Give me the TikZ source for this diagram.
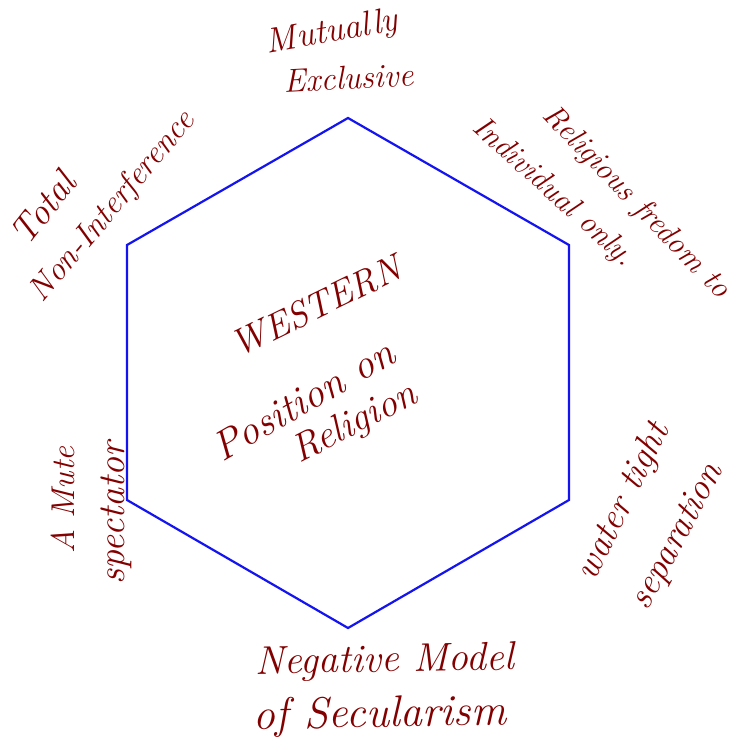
\documentclass[tikz,border=0pt]{standalone}
\usepackage{fontspec}
\newcommand{\fs}[1]{\fontsize{#1}{#1}\selectfont\itshape}
\begin{document}
\begin{tikzpicture}[x=1pt,y=-1pt,
  hexline/.style={draw={rgb,255:red,20;green,20;blue,240},line width=2.2pt,line join=miter},
  hand/.style={text={rgb,255:red,130;green,0;blue,0},inner sep=0pt}]
\path[use as bounding box,fill=white] (0,0) rectangle (741,745);
\coordinate (v1) at (348,118);
\coordinate (v2) at (569,245);
\coordinate (v3) at (569,500);
\coordinate (v4) at (348,628);
\coordinate (v5) at (127,500);
\coordinate (v6) at (127,245);
\draw[hexline] (v1) -- (v2) -- (v3) -- (v4) -- (v5) -- (v6) -- cycle;
% labels
\node[hand,rotate=10,font=\fs{35}] (mut) at (332,33) {Mutually};
\node[hand,rotate=3,font=\fs{33}] (excl) at (349,78) {Exclusive};
\node[hand,rotate=-46,font=\fs{31}] (rel) at (636,203) {Religious fredom to};
\node[hand,rotate=-42,font=\fs{31}] (ind) at (553,193) {Individual only.};
\node[hand,rotate=52,font=\fs{37}] (tot) at (43,208) {Total};
\node[hand,rotate=50,font=\fs{33}] (non) at (113,207) {Non-Interference};
\node[hand,rotate=64,font=\fs{37}] (wat) at (624,502) {water tight};
\node[hand,rotate=62,font=\fs{37}] (sep) at (678,537) {separation};
\node[hand,rotate=90,font=\fs{33}] (mute) at (63,500) {A Mute};
\node[hand,rotate=90,font=\fs{38}] (spec) at (116,513) {spectator};
\node[hand,rotate=1,font=\fs{40}] (neg) at (385,662) {Negative Model};
\node[hand,rotate=1,font=\fs{44}] (sec) at (380,716) {of Secularism};
% centre
\node[hand,rotate=26,font=\fs{37}] (west) at (316,306) {WESTERN};
\node[hand,rotate=30,font=\fs{41}] (pos) at (303,400) {Position on};
\node[hand,rotate=27,font=\fs{39}] (relig) at (355,424) {Religion};
\end{tikzpicture}
\end{document}
